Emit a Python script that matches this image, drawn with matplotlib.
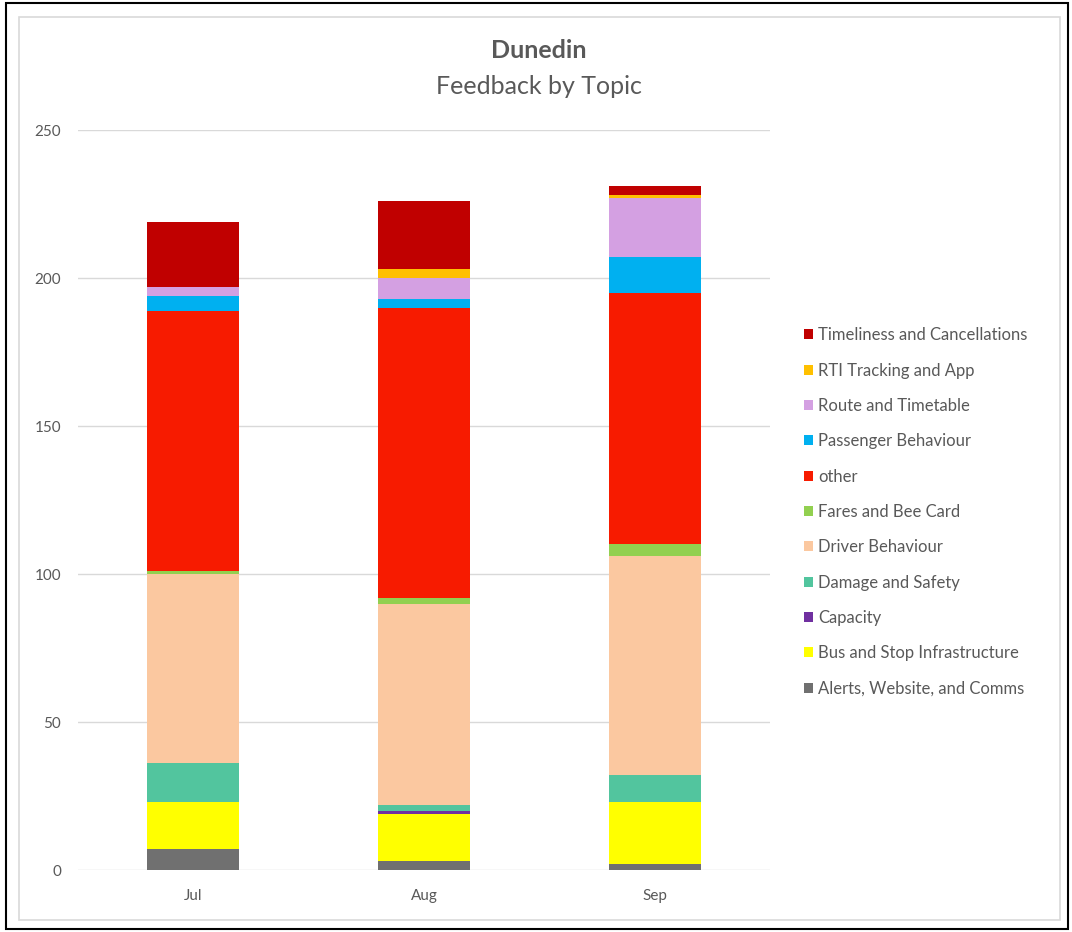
import matplotlib
matplotlib.use("Agg")
import matplotlib.pyplot as plt
from matplotlib.patches import Rectangle, Patch
import numpy as np

plt.rcParams['font.family'] = ['Lato', 'DejaVu Sans']

months = ["Jul", "Aug", "Sep"]
topics = [
    "Alerts, Website, and Comms",
    "Bus and Stop Infrastructure",
    "Capacity",
    "Damage and Safety",
    "Driver Behaviour",
    "Fares and Bee Card",
    "other",
    "Passenger Behaviour",
    "Route and Timetable",
    "RTI Tracking and App",
    "Timeliness and Cancellations",
]
alerts      = [7, 3, 2]
bus_stop    = [16, 16, 21]
capacity    = [0, 1, 0]
damage      = [13, 2, 9]
driver      = [64, 68, 74]
fares       = [1, 2, 4]
other       = [88, 98, 85]
passenger   = [5, 3, 12]
route       = [3, 7, 20]
rti         = [0, 3, 1]
timeliness  = [22, 23, 3]

series = [alerts, bus_stop, capacity, damage, driver, fares, other,
          passenger, route, rti, timeliness]
colors = ["#707070", "#FFFF00", "#7030A0", "#52C59E", "#FBC8A0", "#92D050",
          "#F71B00", "#00B0F0", "#D4A0E2", "#FFC000", "#C00000"]

W, H = 1072, 932
fig = plt.figure(figsize=(W / 100, H / 100), dpi=100)

# borders
fig.add_artist(Rectangle((6 / W, 1 - 929 / H), 1062 / W, 926 / H,
                         transform=fig.transFigure, fill=False,
                         edgecolor="black", linewidth=1.5, zorder=0))
fig.add_artist(Rectangle((19 / W, 1 - 920 / H), 1041 / W, 903 / H,
                         transform=fig.transFigure, fill=False,
                         edgecolor="#D9D9D9", linewidth=1.2, zorder=0))

ax = fig.add_axes([78 / W, 1 - 870 / H, (770 - 78) / W, (870 - 130) / H])
x = np.arange(len(months))
bottom = np.zeros(len(months))
handles = []
for name, vals, c in zip(topics, series, colors):
    ax.bar(x, vals, width=0.40, bottom=bottom, color=c, linewidth=0, zorder=3)
    bottom += np.array(vals)
    handles.append(Patch(facecolor=c, edgecolor="none", label=name))

ax.set_xlim(-0.5, 2.5)
ax.set_ylim(0, 250)
ax.set_yticks([0, 50, 100, 150, 200, 250])
ax.set_xticks(x)
ax.set_xticklabels(months)
ax.grid(axis="y", color="#D9D9D9", linewidth=1, zorder=0)
for s in ax.spines.values():
    s.set_visible(False)
ax.tick_params(axis="both", length=0, labelsize=11, labelcolor="#595959")
ax.tick_params(axis="y", pad=12)
ax.tick_params(axis="x", pad=14)

fig.text(539 / W, 1 - 51 / H, "Dunedin", ha="center", va="center",
         fontsize=18, fontweight="bold", color="#595959")
fig.text(539 / W, 1 - 86 / H, "Feedback by Topic", ha="center", va="center",
         fontsize=18, color="#595959")

leg = fig.legend(handles=handles[::-1], loc="center left",
                 bbox_to_anchor=(789 / W, 1 - 512 / H), frameon=False,
                 fontsize=12, labelspacing=1.16, handlelength=0.55,
                 handleheight=0.55, handletextpad=0.32, labelcolor="#595959")

fig.savefig("out.png", dpi=100)
